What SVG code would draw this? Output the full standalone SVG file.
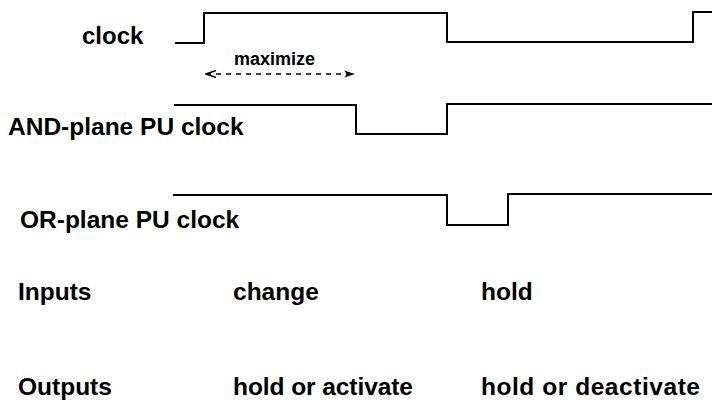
<svg xmlns="http://www.w3.org/2000/svg" width="712" height="416" viewBox="0 0 712 416">
  <style>
    .lbl { font-family: "Liberation Sans", Arial, sans-serif; font-weight: bold; font-size: 24.5px; fill: #000; }
    .small { font-family: "Liberation Sans", Arial, sans-serif; font-weight: bold; font-size: 18px; fill: #000; }
    .wave { fill: none; stroke: #000; stroke-width: 2; }
    .dash { fill: none; stroke: #000; stroke-width: 1.6; stroke-dasharray: 5 5; }
  </style>
  <defs>
    <marker id="headFilled" markerWidth="12" markerHeight="8" refX="11" refY="4" orient="auto" markerUnits="userSpaceOnUse">
      <path d="M0,0.5 L11,4 L0,7.5 L3,4 Z" fill="#000"/>
    </marker>
    <marker id="headOpen" markerWidth="12" markerHeight="8" refX="11" refY="4" orient="auto-start-reverse" markerUnits="userSpaceOnUse">
      <path d="M1,0.5 L11,4 L1,7.5" fill="none" stroke="#000" stroke-width="1.5"/>
    </marker>
  </defs>

  <g id="clock">
    <text class="lbl" x="82" y="44" style="font-size:24px">clock</text>
  </g>
  <g id="and-plane">
    <text class="lbl" x="8" y="135">AND-plane PU clock</text>
  </g>
  <g id="or-plane">
    <text class="lbl" x="20" y="228">OR-plane PU clock</text>
  </g>
  <g id="maximize">
    <text class="small" x="234" y="65">maximize</text>
  </g>
  <g id="inputs">
    <text class="lbl" x="18" y="300">Inputs</text>
    <text class="lbl" x="233" y="300">change</text>
    <text class="lbl" x="481" y="300">hold</text>
  </g>
  <g id="outputs">
    <text class="lbl" x="18" y="395">Outputs</text>
    <text class="lbl" x="233" y="395" textLength="180">hold or activate</text>
    <text class="lbl" x="481" y="395" textLength="219">hold or deactivate</text>
  </g>

  <g id="connectors">
    <path class="wave" d="M175,43 H204 V13 H447 V42 H693 V12 H712"/>
    <path class="wave" d="M174,105 H356 V134 H447 V104 H712"/>
    <path class="wave" d="M173,195 H447 V225 H508 V194 H712"/>
    <path class="dash" d="M206,74 H355" marker-start="url(#headOpen)" marker-end="url(#headFilled)"/>
  </g>
</svg>
